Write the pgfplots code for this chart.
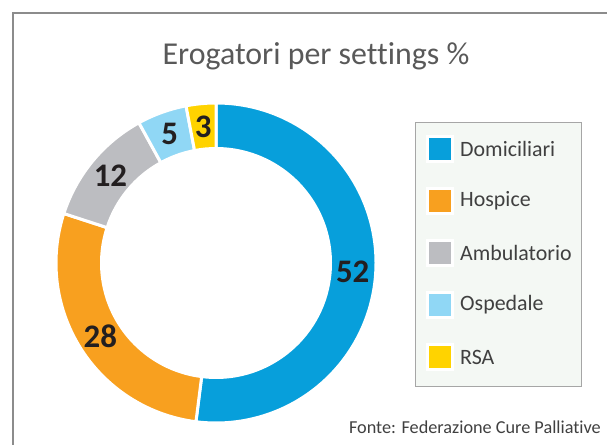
\documentclass[border=0pt]{standalone}
\usepackage{pgfplots}
\pgfplotsset{compat=1.18}
\usepackage{pgfplotstable}
\usepackage{fontspec}
\setmainfont{Carlito}[Ligatures=NoCommon]
\definecolor{cDom}{HTML}{079FDB}
\definecolor{cHos}{HTML}{F8A01F}
\definecolor{cAmb}{HTML}{BCBDC1}
\definecolor{cOsp}{HTML}{90D7F5}
\definecolor{cRSA}{HTML}{FFD300}
\definecolor{titlegray}{HTML}{595959}
\definecolor{txtgray}{HTML}{404040}
\definecolor{legbg}{HTML}{F4F8F4}
\definecolor{framegray}{HTML}{8C8C8C}
\definecolor{lblcol}{HTML}{231F20}

\pgfplotstableread{
label value col
Domiciliari 52 cDom
Hospice 28 cHos
Ambulatorio 12 cAmb
Ospedale 5 cOsp
RSA 3 cRSA
}\datatable

% cumulative angles (clockwise from the top)
\def\cum{0}
\foreach \i in {0,...,4}{%
  \pgfplotstablegetelem{\i}{value}\of\datatable
  \pgfmathsetmacro\a{90-3.6*\cum}%
  \pgfmathsetmacro\b{90-3.6*(\cum+\pgfplotsretval)}%
  \pgfmathsetmacro\newcum{\cum+\pgfplotsretval}%
  \expandafter\xdef\csname sA\i\endcsname{\a}%
  \expandafter\xdef\csname sB\i\endcsname{\b}%
  \expandafter\xdef\csname sV\i\endcsname{\pgfplotsretval}%
  \pgfplotstablegetelem{\i}{col}\of\datatable
  \expandafter\xdef\csname sC\i\endcsname{\pgfplotsretval}%
  \pgfplotstablegetelem{\i}{label}\of\datatable
  \expandafter\xdef\csname sL\i\endcsname{\pgfplotsretval}%
  \xdef\cum{\newcum}%
}

\def\cx{216}
\def\cy{182}
\def\Ro{160}
\def\Ri{114.5}
\def\Rl{137}

\begin{document}
\begin{tikzpicture}[x=1bp,y=1bp]
\useasboundingbox (0,0) rectangle (607,445);
\clip (0,0) rectangle (607,445);
% frame
\draw[framegray, line width=1.6bp] (13,-5) -- (13,432) -- (620,432);
\begin{axis}[
  x=1bp, y=1bp,
  xmin=0, xmax=607, ymin=0, ymax=445,
  hide axis, clip=false,
  at={(0,0)}, anchor=south west,
]
\pgfplotsinvokeforeach{0,...,4}{%
  \fill[\csname sC#1\endcsname, draw=white, line width=3bp]
    (axis cs:{\cx+\Ro*cos(\csname sA#1\endcsname)},{\cy+\Ro*sin(\csname sA#1\endcsname)})
    arc[start angle=\csname sA#1\endcsname, end angle=\csname sB#1\endcsname, radius=\Ro bp]
    -- (axis cs:{\cx+\Ri*cos(\csname sB#1\endcsname)},{\cy+\Ri*sin(\csname sB#1\endcsname)})
    arc[start angle=\csname sB#1\endcsname, end angle=\csname sA#1\endcsname, radius=\Ri bp]
    -- cycle;
  \node[font=\fontsize{33}{36}\selectfont\bfseries, text=lblcol, inner sep=0pt]
    at (axis cs:{\cx+\Rl*cos((\csname sA#1\endcsname+\csname sB#1\endcsname)/2)},{\cy+\Rl*sin((\csname sA#1\endcsname+\csname sB#1\endcsname)/2)})
    {\csname sV#1\endcsname};
}
% legend
\draw[fill=legbg, draw=black!35, line width=1bp] (axis cs:415,58) rectangle (axis cs:581,322);
\pgfplotsinvokeforeach{0,...,4}{%
  \fill[white] (axis cs:426,{296-52*#1-14}) rectangle (axis cs:454,{296-52*#1+14});
  \fill[\csname sC#1\endcsname] (axis cs:429,{296-52*#1-11}) rectangle (axis cs:451,{296-52*#1+11});
  \node[anchor=west, font=\fontsize{22}{24}\selectfont, text=txtgray, inner sep=0pt]
    at (axis cs:460,{296-52*#1}) {\csname sL#1\endcsname};
}
\end{axis}
\node[font=\fontsize{32}{36}\selectfont, text=titlegray, anchor=base] at (316,380) {Erogatori per settings \%};
\node[font=\fontsize{18.3}{20}\selectfont, text=txtgray, anchor=base east, inner sep=0pt] at (601,11) {Fonte: Federazione Cure Palliative};
\end{tikzpicture}
\end{document}
